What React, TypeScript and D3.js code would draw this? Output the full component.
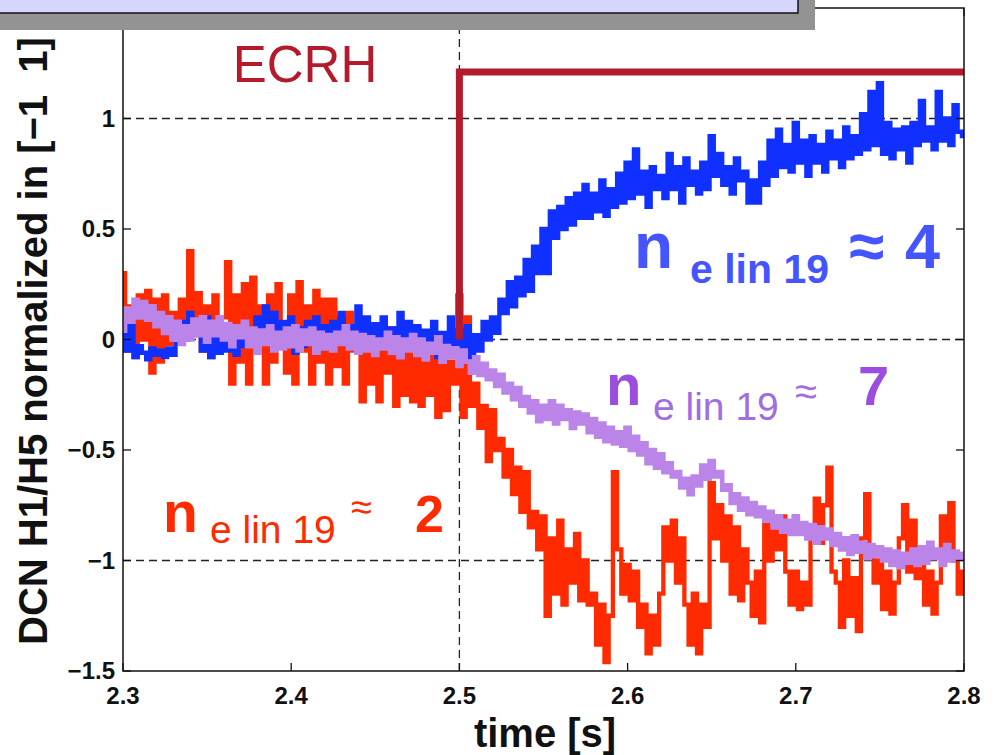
import React from "react";
import * as d3 from "d3";

// Sampling interval of the DCN traces (s), first sample at 2.3 s
const T0 = 2.3;
const DT = 0.0025;

// DCN H1/H5 signals, normalized to [-1, 1]; one row = 25 ms
const blueValues = [
  0.12, -0.05, 0.08, -0.08, -0.03, -0.06, -0.09, -0.04, -0.07, -0.05,
  -0.08, -0.04, -0.07, -0.02, 0.08, 0.03, 0.12, 0.02, 0.09, -0.05,
  0.1, -0.08, 0.02, -0.06, 0.04, -0.05, 0.01, -0.07, 0.03, -0.03,
  0.04, -0.02, 0.1, 0.0, 0.15, 0.03, 0.12, 0.0, 0.08, -0.01,
  0.1, -0.06, 0.05, -0.03, 0.08, 0.0, 0.1, -0.04, 0.06, 0.0,
  0.08, -0.02, 0.12, 0.01, 0.06, -0.04, 0.15, 0.02, 0.1, -0.02,
  0.07, -0.03, 0.1, 0.0, 0.05, -0.05, 0.12, 0.01, 0.08, -0.03,
  0.06, -0.06, 0.04, -0.03, 0.08, -0.08, 0.03, -0.04, 0.1, -0.02,
  0.04, -0.06, 0.06, -0.08, 0.02, -0.05, 0.08, 0.0, 0.1, 0.03,
  0.18, 0.12, 0.26, 0.15, 0.28, 0.2, 0.36, 0.22, 0.42, 0.3,
  0.5, 0.3, 0.58, 0.46, 0.6, 0.5, 0.64, 0.52, 0.66, 0.55,
  0.7, 0.55, 0.66, 0.58, 0.72, 0.56, 0.68, 0.6, 0.75, 0.62,
  0.8, 0.64, 0.86, 0.66, 0.76, 0.6, 0.78, 0.68, 0.74, 0.64,
  0.84, 0.68, 0.78, 0.62, 0.82, 0.7, 0.76, 0.66, 0.8, 0.68,
  0.92, 0.74, 0.84, 0.7, 0.78, 0.66, 0.82, 0.72, 0.76, 0.62,
  0.72, 0.62, 0.8, 0.7, 0.9, 0.74, 0.95, 0.78, 0.88, 0.76,
  0.98, 0.8, 0.9, 0.74, 0.92, 0.8, 0.88, 0.76, 0.94, 0.82,
  0.9, 0.78, 0.96, 0.82, 0.92, 0.84, 1.02, 0.86, 1.12, 0.88,
  1.16, 0.84, 0.98, 0.82, 0.95, 0.86, 0.96, 0.8, 0.98, 0.88,
  1.08, 0.9, 0.96, 0.86, 1.12, 0.9, 1.0, 0.88, 1.06, 0.94,
  0.92,
];

const purpleValues = [
  0.04, 0.14, 0.08, 0.18, 0.1, 0.17, 0.09, 0.15, 0.06, 0.12,
  0.03, 0.1, 0.0, 0.08, -0.02, 0.06, 0.0, 0.09, 0.02, 0.1,
  -0.01, 0.08, 0.02, 0.1, 0.0, 0.07, -0.03, 0.06, 0.01, 0.08,
  -0.03, 0.05, -0.06, 0.04, -0.02, 0.06, -0.05, 0.03, -0.04, 0.05,
  -0.03, 0.06, -0.05, 0.04, -0.02, 0.05, -0.06, 0.03, -0.04, 0.02,
  -0.05, 0.03, -0.02, 0.06, -0.04, 0.03, -0.06, 0.02, -0.05, 0.01,
  -0.07, 0.0, -0.04, 0.03, -0.06, 0.01, -0.08, 0.0, -0.05, 0.02,
  -0.07, 0.0, -0.09, -0.02, -0.06, 0.01, -0.1, -0.03, -0.08, -0.04,
  -0.12, -0.05, -0.1, -0.15, -0.08, -0.16, -0.11, -0.18, -0.14, -0.21,
  -0.16, -0.24, -0.2, -0.27, -0.22, -0.3, -0.26, -0.33, -0.28, -0.37,
  -0.3, -0.36, -0.28, -0.38, -0.3, -0.36, -0.32, -0.4, -0.33, -0.38,
  -0.34, -0.42, -0.36, -0.44, -0.38, -0.46, -0.4, -0.47, -0.42, -0.48,
  -0.4, -0.5, -0.44, -0.52, -0.47, -0.56, -0.5, -0.58, -0.52, -0.6,
  -0.56, -0.62, -0.6, -0.67, -0.63, -0.7, -0.62, -0.66, -0.57, -0.63,
  -0.55, -0.62, -0.6, -0.68, -0.66, -0.74, -0.7, -0.77, -0.72, -0.79,
  -0.74, -0.8, -0.76, -0.82, -0.78, -0.85, -0.8, -0.87, -0.82, -0.88,
  -0.8, -0.88, -0.83, -0.9, -0.84, -0.92, -0.85, -0.9, -0.86, -0.93,
  -0.88, -0.95, -0.9, -0.97, -0.89, -0.96, -0.92, -0.99, -0.93, -0.98,
  -0.94, -1.0, -0.95, -1.02, -0.96, -1.03, -0.97, -1.01, -0.95, -1.02,
  -0.94, -1.01, -0.92, -0.99, -0.95, -1.02, -0.93, -1.0, -0.96, -0.99,
  -0.97,
];

const redValues = [
  0.3, -0.05, 0.15, -0.08, 0.2, 0.0, 0.22, -0.15, 0.18, -0.1,
  0.2, -0.02, 0.12, 0.05, 0.18, 0.0, 0.4, 0.08, 0.21, -0.05,
  0.15, -0.08, 0.2, -0.03, 0.1, 0.35, -0.2, 0.2, -0.1, 0.25,
  -0.2, 0.28, -0.05, 0.15, -0.2, 0.2, -0.1, 0.25, 0.0, -0.15,
  0.2, -0.2, 0.26, -0.05, 0.15, -0.2, 0.22, -0.1, 0.18, -0.2,
  0.18, -0.12, 0.1, -0.2, 0.12, -0.05, 0.06, -0.28, 0.05, -0.2,
  0.04, -0.28, 0.02, -0.15, 0.05, -0.3, 0.0, -0.25, 0.03, -0.28,
  0.05, -0.3, 0.0, -0.25, -0.05, -0.35, 0.02, -0.32, -0.1, -0.2,
  0.2, -0.35, 0.1, -0.3, -0.2, -0.4, -0.3, -0.55, -0.32, -0.5,
  -0.45, -0.62, -0.5, -0.7, -0.58, -0.78, -0.6, -0.85, -0.78, -0.95,
  -0.8, -1.25, -0.9, -1.15, -0.82, -1.2, -0.95, -1.1, -0.88, -1.18,
  -1.0, -1.2, -1.15, -1.38, -1.2, -1.46, -1.25, -0.6, -0.95, -1.15,
  -1.02, -1.18, -1.05, -1.3, -1.2, -1.42, -1.25, -1.38, -1.15, -0.85,
  -1.0, -0.82, -1.1, -0.9, -1.2, -1.38, -1.15, -1.42, -1.2, -1.3,
  -0.65, -0.9, -0.75, -1.0, -0.8, -1.15, -0.85, -1.18, -0.95, -1.1,
  -1.25, -1.05, -1.28, -0.8, -1.0, -0.85, -0.95, -0.8, -1.05, -1.2,
  -1.05, -1.22, -1.1, -1.2, -0.85, -0.72, -0.92, -0.75, -0.58, -1.05,
  -1.1, -1.3, -1.0, -1.25, -1.08, -1.32, -0.9, -0.7, -0.95, -1.1,
  -1.0, -1.22, -1.05, -1.24, -1.1, -0.9, -0.75, -1.05, -0.82, -1.08,
  -0.95, -1.2, -1.05, -1.24, -1.1, -0.8, -0.95, -0.74, -1.0, -1.15,
  -1.05,
];

// ECRH heating trace (switched on at 2.5 s)
const ecrhTime = [2.5, 2.5, 2.8];
const ecrhLevel = [0, 1.21, 1.21];

const xTicks = [2.3, 2.4, 2.5, 2.6, 2.7, 2.8];
const xTickLabels = ["2.3", "2.4", "2.5", "2.6", "2.7", "2.8"];
const yTicks = [1, 0.5, 0, -0.5, -1, -1.5];
const yTickLabels = ["1", "0.5", "0", "\u22120.5", "\u22121", "\u22121.5"];
const gridLevels = [1, 0, -1];

const W = 998;
const H = 755;
const M = { left: 123, right: 964, top: 8, bottom: 671 };
const FONT = "'Liberation Sans', Arial, Helvetica, sans-serif";

export default function App() {
  const x = d3.scaleLinear().domain([2.3, 2.8]).range([M.left, M.right]);
  const y = d3.scaleLinear().domain([-1.5, 1.5]).range([M.bottom, M.top]);

  const toPoints = (vals: number[]) =>
    vals.map((v, i) => [T0 + i * DT, v] as [number, number]);

  const trace = d3
    .line<[number, number]>()
    .x((d) => x(d[0]))
    .y((d) => y(d[1]))
    .curve(d3.curveStep);

  const ecrhLine = d3
    .line<number>()
    .x((_, i) => x(ecrhTime[i]))
    .y((d) => y(d))
    .curve(d3.curveLinear);

  const tickLen = 8;

  return (
    <svg
      width={W}
      height={H}
      style={{ position: "absolute", left: 0, top: 0, background: "#fff" }}
      fontFamily={FONT}
    >
      <defs>
        <clipPath id="plot-clip">
          <rect x={M.left} y={M.top} width={M.right - M.left} height={M.bottom - M.top} />
        </clipPath>
      </defs>

      {/* dashed reference levels */}
      {gridLevels.map((g) => (
        <line
          key={g}
          x1={M.left}
          x2={M.right}
          y1={y(g)}
          y2={y(g)}
          stroke="#222"
          strokeWidth={1.3}
          strokeDasharray="8,5"
        />
      ))}
      <line
        x1={x(2.5)}
        x2={x(2.5)}
        y1={M.bottom}
        y2={M.top}
        stroke="#222"
        strokeWidth={1.3}
        strokeDasharray="8,5"
      />

      <g clipPath="url(#plot-clip)" fill="none" strokeLinejoin="miter" strokeLinecap="butt">
        <path d={trace(toPoints(redValues)) ?? ""} stroke="#ff2a00" strokeWidth={4.3} />
        <path d={trace(toPoints(blueValues)) ?? ""} stroke="#1030ff" strokeWidth={4.3} />
        <path d={trace(toPoints(purpleValues)) ?? ""} stroke="#bb84e8" strokeWidth={4.6} />
        <path d={ecrhLine(ecrhLevel) ?? ""} stroke="#b31b2d" strokeWidth={7} />
      </g>

      {/* axes frame */}
      <rect
        x={M.left}
        y={M.top}
        width={M.right - M.left}
        height={M.bottom - M.top}
        fill="none"
        stroke="#111"
        strokeWidth={1.5}
      />
      {xTicks.map((t, i) => (
        <g key={"x" + t}>
          <line x1={x(t)} x2={x(t)} y1={M.bottom} y2={M.bottom - tickLen} stroke="#111" strokeWidth={1.3} />
          <line x1={x(t)} x2={x(t)} y1={M.top} y2={M.top + tickLen} stroke="#111" strokeWidth={1.3} />
          <text
            x={x(t)}
            y={M.bottom + 33}
            textAnchor="middle"
            fontSize={24}
            fontWeight="bold"
            fill="#111"
          >
            {xTickLabels[i]}
          </text>
        </g>
      ))}
      {yTicks.map((t, i) => (
        <g key={"y" + t}>
          <line x1={M.left} x2={M.left + tickLen} y1={y(t)} y2={y(t)} stroke="#111" strokeWidth={1.3} />
          <line x1={M.right} x2={M.right - tickLen} y1={y(t)} y2={y(t)} stroke="#111" strokeWidth={1.3} />
          <text
            x={M.left - 8}
            y={y(t) + 8}
            textAnchor="end"
            fontSize={24}
            fontWeight="bold"
            fill="#111"
          >
            {yTickLabels[i]}
          </text>
        </g>
      ))}

      {/* axis titles */}
      <text x={545} y={747} textAnchor="middle" fontSize={40} fontWeight="bold" fill="#111">
        time [s]
      </text>
      <text
        transform="translate(47,645) rotate(-90)"
        textAnchor="start"
        fontSize={40}
        fontWeight="bold"
        fill="#111"
        style={{ whiteSpace: "pre" }}
      >
        {"DCN H1/H5 normalized in [\u22121  1]"}
      </text>

      {/* annotations */}
      <text x={305} y={82} textAnchor="middle" fontSize={51} fill="#b31b2d">
        ECRH
      </text>

      <g fill="#4455ff" fontWeight="bold">
        <text x={634} y={268} fontSize={64}>n</text>
        <text x={690} y={283} fontSize={41}>e lin 19</text>
        <text x={849} y={268} fontSize={64}>{"\u2248"}</text>
        <text x={905} y={268} fontSize={63}>4</text>
      </g>

      <g fill="#a06ee2">
        <text x={606} y={405} fontSize={58} fontWeight="bold" fill="#9b4de0">n</text>
        <text x={653} y={420} fontSize={39}>e lin 19</text>
        <text x={795} y={405} fontSize={40}>{"\u2248"}</text>
        <text x={858} y={405} fontSize={56} fontWeight="bold" fill="#9b4de0">7</text>
      </g>

      <g fill="#ff2a00">
        <text x={163} y={532} fontSize={57} fontWeight="bold">n</text>
        <text x={210} y={543} fontSize={39}>e lin 19</text>
        <text x={351} y={520} fontSize={38}>{"\u2248"}</text>
        <text x={415} y={532} fontSize={52} fontWeight="bold">2</text>
      </g>

      {/* header panel overlapping the top of the figure */}
      <rect x={0} y={0} width={815} height={30} fill="#939393" />
      <rect x={-2} y={-2} width={800} height={15} fill="#d4d6fc" stroke="#111" strokeWidth={1.5} />
    </svg>
  );
}
